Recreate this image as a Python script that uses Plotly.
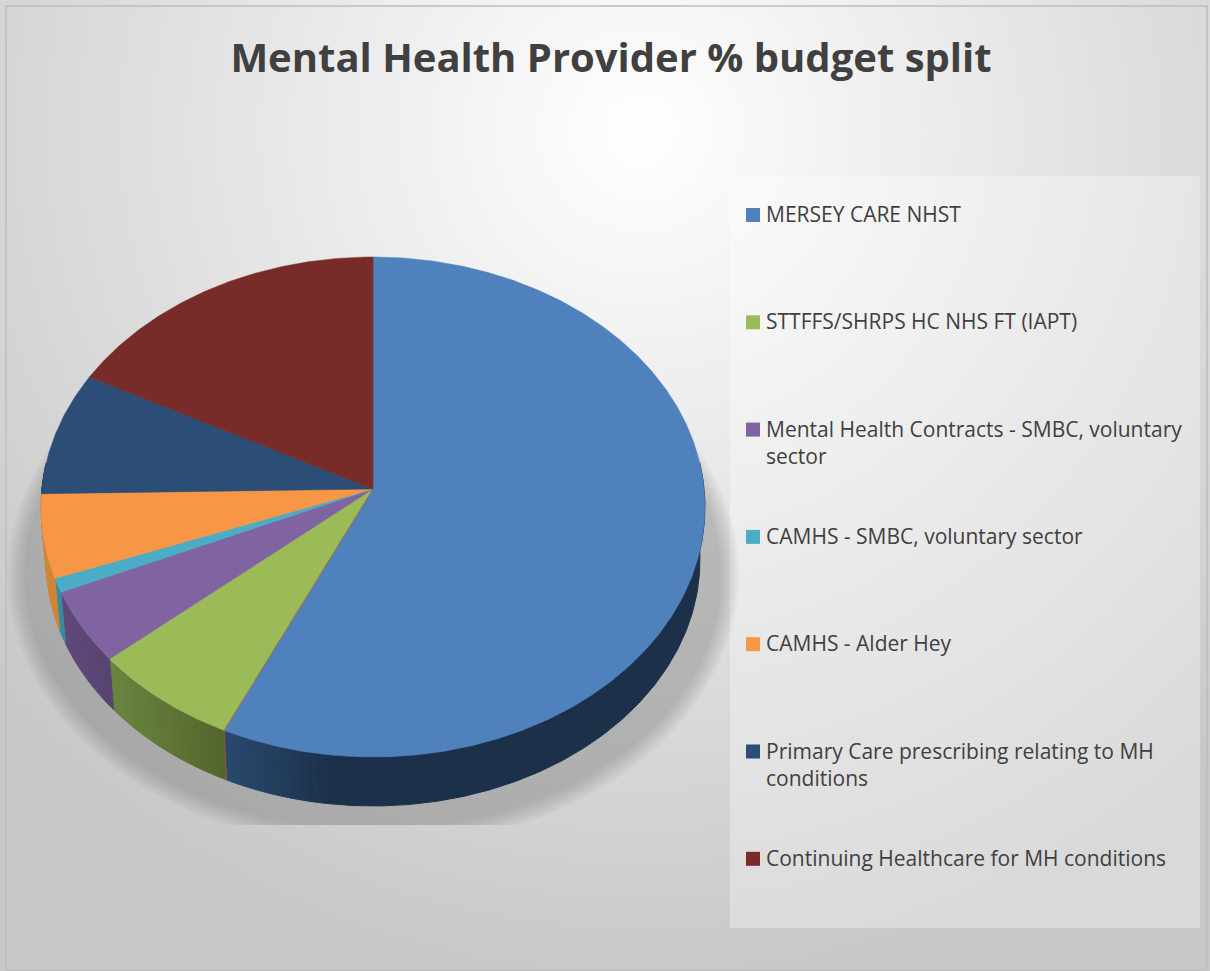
import numpy as np
import plotly.graph_objects as go

# ---------- data ----------
categories = [
    "MERSEY CARE NHST",
    "STTFFS/SHRPS HC NHS FT (IAPT)",
    "Mental Health Contracts - SMBC, voluntary<br>sector",
    "CAMHS - SMBC, voluntary sector",
    "CAMHS - Alder Hey",
    "Primary Care prescribing relating to MH<br>conditions",
    "Continuing Healthcare for MH conditions",
]
share_pct = [56.9, 6.8, 4.7, 0.9, 5.4, 8.0, 17.3]
top_colors = ["#4f81bd", "#9bbb59", "#8064a2", "#4bacc6", "#f79646", "#2c4d75", "#772c2a"]
wall_light = ["#2a4a70", "#6b8540", "#5f4a7b", "#388a9e", "#d08536", "#1f3a58", "#5a2120"]
wall_dark = ["#1c3049", "#55652c", "#574470", "#388a9e", "#d08536", "#1f3a58", "#5a2120"]
title_text = "Mental Health Provider % budget split"

W, H = 1210, 971
CX, CY, A, B, K = 373.0, 489.0, 331.1, 248.7, 0.072
DEPTH, BOTTOM_SCALE = 53.0, 0.985


def rim(t_deg, scale=1.0, shift=0.0):
    t = np.radians(np.asarray(t_deg, dtype=float))
    u, v = np.sin(t), -np.cos(t)
    d = 1 - K * v
    return CX + scale * A * u / d, CY + shift + scale * B * v / d


def hexrgb(c):
    return np.array([int(c[i:i + 2], 16) for i in (1, 3, 5)], dtype=float)


traces = []

# background gradient
gx = np.linspace(6, 1207, 61)
gy = np.linspace(6, 970, 49)
xx, yy = np.meshgrid(gx, gy)
rr = np.hypot(xx - 640, yy - 130)
traces.append(go.Heatmap(x=gx, y=gy, z=np.clip(1 - rr / 850, 0, 1), zmin=0, zmax=1, zsmooth="best",
                         colorscale=[[0, "rgb(200,200,200)"], [1, "rgb(255,255,255)"]],
                         showscale=False, hoverinfo="skip"))

# legend panel
traces.append(go.Scatter(x=[730, 1200, 1200, 730, 730], y=[176, 176, 928, 928, 176], mode="lines",
                         fill="toself", fillcolor="rgba(255,255,255,0.32)", line=dict(width=0),
                         showlegend=False, hoverinfo="skip"))

# soft shadow under the pie
th = np.linspace(0, 2 * np.pi, 240)
for grow in np.arange(28, 8, -2):
    sx = CX + (338 + grow) * np.sin(th)
    sy = 575 + (245 + grow) * np.cos(th)
    traces.append(go.Scatter(x=sx, y=np.minimum(sy, 825), mode="lines", fill="toself",
                             fillcolor="rgba(110,110,110,0.045)", line=dict(width=0),
                             showlegend=False, hoverinfo="skip"))

# angular boundaries from the values
edges = np.concatenate([[0.0], np.cumsum(share_pct)]) / sum(share_pct) * 360.0

# side walls (only the front half is visible)
for i in range(len(share_pct)):
    a0, a1 = max(edges[i], 84.0), min(edges[i + 1], 276.0)
    if a1 <= a0:
        continue
    fine = np.arange(a0, a1, 1.5).tolist() + [a1]
    xs_all = rim(fine)[0]
    lo, hi = xs_all.min(), xs_all.max()
    span = 110.0 if i == 0 else max(hi - lo, 1)
    inside = [t for t in fine if rim(t)[0] - lo <= span]
    steps = sorted({a0, *inside, a1})
    for s0, s1 in zip(steps[:-1], steps[1:]):
        seg = np.linspace(s0, s1, max(3, int(s1 - s0) * 2))
        xt, yt = rim(seg)
        xb, yb = rim(seg[::-1], BOTTOM_SCALE, DEPTH)
        f = min((rim((s0 + s1) / 2)[0] - lo) / span, 1.0)
        c = (1 - f) * hexrgb(wall_light[i]) + f * hexrgb(wall_dark[i])
        col = "rgb(%d,%d,%d)" % tuple(c)
        traces.append(go.Scatter(x=np.r_[xt, xb, xt[0]], y=np.r_[yt, yb, yt[0]], mode="lines", fill="toself",
                                 fillcolor=col, line=dict(color=col, width=1),
                                 showlegend=False, hoverinfo="skip"))

# top face slices
for i, name in enumerate(categories):
    arc = np.linspace(edges[i], edges[i + 1], max(int((edges[i + 1] - edges[i]) * 2), 4))
    ax, ay = rim(arc)
    traces.append(go.Scatter(x=np.r_[CX, ax, CX], y=np.r_[CY, ay, CY], mode="lines", fill="toself",
                             fillcolor=top_colors[i], line=dict(color=top_colors[i], width=0.5),
                             name=name.replace("<br>", " "), showlegend=False,
                             text="%s: %.1f%%" % (name.replace("<br>", " "), share_pct[i]), hoverinfo="text"))

# thin reddish seam at the blue / green boundary
sx0, sy0 = rim(edges[1])
sx1, sy1 = rim(edges[1], BOTTOM_SCALE, DEPTH)
traces.append(go.Scatter(x=[CX, float(sx0), float(sx1)], y=[CY, float(sy0), float(sy1)], mode="lines",
                         line=dict(color="rgba(170,80,60,0.75)", width=1), showlegend=False, hoverinfo="skip"))

# legend: one row per category
rows = np.arange(len(categories))
row_y = 215.0 + rows * 107.3
traces.append(go.Scatter(x=[753.0] * len(rows), y=row_y, mode="markers",
                         marker=dict(symbol="square", size=14, color=top_colors, line=dict(width=0)),
                         showlegend=False, hoverinfo="skip"))
annotations = [dict(x=764, y=float(row_y[i]) - 17, xref="x", yref="y", text=categories[i], showarrow=False,
                    xanchor="left", yanchor="top", align="left",
                    font=dict(family="Open Sans", size=21, color="#404040"))
               for i in range(len(categories))]

fig = go.Figure(traces)
fig.update_layout(
    width=W, height=H, autosize=False,
    margin=dict(l=0, r=0, t=0, b=0),
    paper_bgcolor="white", plot_bgcolor="white", showlegend=False,
    title=dict(text="<b>%s</b>" % title_text, x=611 / W, xanchor="center", xref="paper",
               y=1 - 58 / H, yanchor="middle", yref="container",
               font=dict(family="Open Sans", size=40, color="#404040")),
    xaxis=dict(range=[0, W], visible=False, fixedrange=True),
    yaxis=dict(range=[H, 0], visible=False, fixedrange=True),
    annotations=annotations,
    shapes=[dict(type="rect", xref="x", yref="y", x0=6, y0=6, x1=1207, y1=970,
                 line=dict(color="#bdbdbd", width=1.5), layer="above")],
)
fig.write_html("out.html", config=dict(displayModeBar=False),
               post_script="document.body.style.margin='0';document.body.style.overflow='hidden';")
